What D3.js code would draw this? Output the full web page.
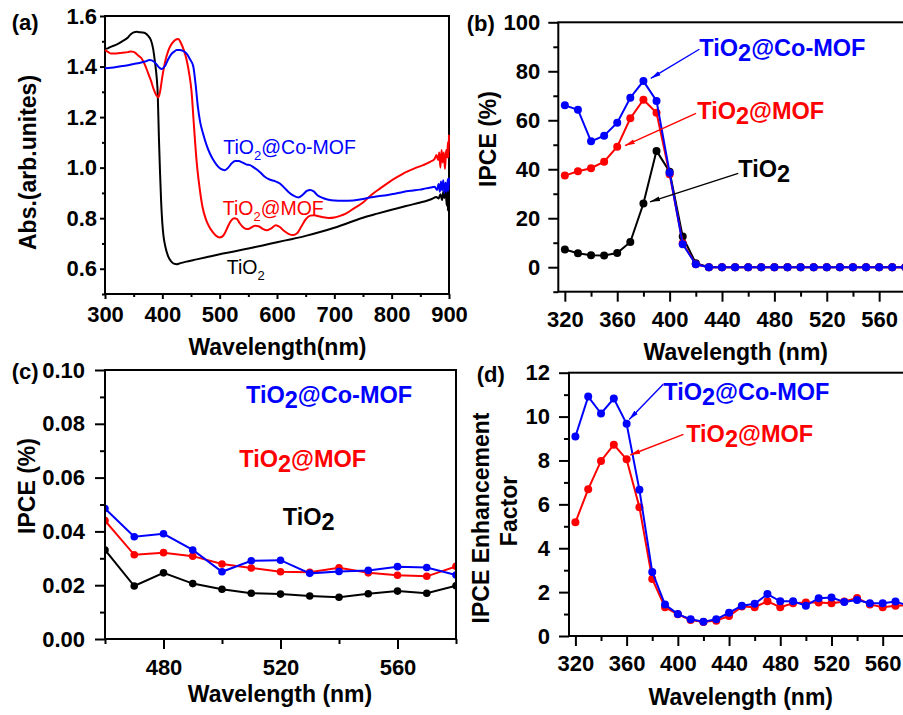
<!DOCTYPE html>
<html>
<head>
<meta charset="utf-8">
<script src="https://cdn.jsdelivr.net/npm/d3@7"></script>
<style>
  html, body { margin: 0; padding: 0; background: #fff; }
  svg { display: block; }
</style>
</head>
<body>
<svg id="fig" width="903" height="715"></svg>
<script>
// ---------- (a) UV-vis absorbance spectra: [wavelength nm, absorbance] ----------
const absTiO2 = [
  [300,1.470],[305,1.472],[310,1.478],[320,1.487],[330,1.500],[340,1.515],[345,1.528],[350,1.535],
  [355,1.538],[360,1.536],[365,1.535],[370,1.532],[375,1.522],[380,1.505],[384,1.470],[387,1.420],
  [390,1.360],[392,1.290],[394,1.120],[396,0.980],[398,0.860],[400,0.780],[402,0.730],[405,0.690],
  [410,0.650],[415,0.630],[420,0.620],[425,0.618],[430,0.621],[440,0.627],[460,0.637],[480,0.647],
  [500,0.657],[525,0.668],[550,0.680],[575,0.692],[600,0.705],[625,0.717],[650,0.730],[675,0.745],
  [700,0.762],[725,0.782],[750,0.802],[775,0.818],[800,0.833],[825,0.848],[850,0.862],[860,0.868],
  [870,0.876],[878,0.884],[882,0.878],[885,0.895],[888,0.872],[890,0.905],[892,0.880],[894,0.915],
  [896,0.850],[897,0.930],[898,0.830],[899,0.910],[900,0.860]
];
const absMOF = [
  [300,1.465],[305,1.458],[310,1.452],[320,1.452],[330,1.455],[340,1.457],[345,1.460],[350,1.458],
  [355,1.450],[360,1.440],[365,1.428],[370,1.405],[375,1.375],[380,1.345],[385,1.310],[390,1.285],
  [393,1.278],[396,1.300],[400,1.360],[405,1.420],[410,1.460],[415,1.485],[420,1.500],[425,1.508],
  [428,1.509],[432,1.495],[437,1.468],[442,1.430],[447,1.370],[451,1.300],[455,1.170],[460,1.020],
  [465,0.920],[470,0.845],[476,0.795],[482,0.765],[488,0.745],[494,0.730],[500,0.724],[505,0.728],
  [510,0.745],[515,0.770],[520,0.790],[525,0.800],[530,0.797],[535,0.780],[540,0.766],[545,0.758],
  [550,0.757],[555,0.763],[562,0.770],[568,0.768],[575,0.758],[582,0.752],[590,0.760],[598,0.772],
  [605,0.765],[612,0.750],[620,0.738],[628,0.733],[635,0.740],[642,0.765],[650,0.795],[658,0.810],
  [665,0.812],[672,0.808],[680,0.804],[690,0.801],[700,0.803],[710,0.809],[720,0.818],[735,0.840],
  [750,0.862],[765,0.893],[780,0.918],[795,0.942],[810,0.963],[825,0.982],[840,0.997],[855,1.010],
  [867,1.023],[875,1.035],[878,1.050],[881,1.030],[883,1.060],[885,1.000],[887,1.070],[889,1.020],
  [891,1.060],[893,0.995],[895,1.070],[897,1.040],[898,1.100],[899,1.040],[900,1.130]
];
const absCoMOF = [
  [300,1.393],[310,1.395],[320,1.398],[330,1.402],[340,1.405],[350,1.410],[360,1.414],[370,1.420],
  [378,1.426],[385,1.420],[390,1.408],[395,1.395],[399,1.390],[404,1.400],[410,1.428],[415,1.447],
  [420,1.458],[425,1.465],[430,1.465],[436,1.462],[442,1.452],[448,1.430],[454,1.400],[458,1.330],
  [462,1.240],[466,1.180],[471,1.135],[477,1.090],[483,1.056],[489,1.030],[495,1.010],[502,0.995],
  [509,0.990],[515,1.000],[521,1.017],[527,1.026],[533,1.026],[540,1.020],[547,1.012],[553,1.010],
  [560,1.000],[570,0.983],[578,0.965],[588,0.952],[596,0.947],[605,0.937],[613,0.920],[620,0.904],
  [628,0.890],[637,0.882],[645,0.893],[652,0.908],[658,0.912],[664,0.906],[670,0.892],[680,0.880],
  [690,0.873],[700,0.870],[715,0.869],[733,0.870],[750,0.876],[762,0.882],[776,0.887],[791,0.891],
  [805,0.897],[820,0.904],[835,0.909],[849,0.913],[860,0.918],[868,0.921],[875,0.924],[879,0.912],
  [882,0.935],[884,0.905],[886,0.945],[888,0.910],[890,0.950],[892,0.900],[894,0.940],[896,0.905],
  [898,0.955],[899,0.910],[900,0.960]
];

// ---------- (b) IPCE, 320-580 nm ----------
const ipceWavelength = [320,330,340,350,360,370,380,390,400,410,420,430,440,450,460,470,480,490,500,510,520,530,540,550,560,570,580];
const ipceTiO2   = [7.2,5.7,4.9,4.8,5.8,10.3,26.0,47.5,39.0,12.5,1.6,0,0,0,0,0,0,0,0,0,0,0,0,0,0,0,0];
const ipceMOF    = [37.4,39.2,40.4,43.1,49.2,60.8,68.4,63.1,38.0,9.8,1.2,0,0,0,0,0,0,0,0,0,0,0,0,0,0,0,0];
const ipceCoMOF  = [66.1,64.3,51.4,53.7,59.0,69.2,76.0,67.9,38.6,9.4,1.2,0,0,0,0,0,0,0,0,0,0,0,0,0,0,0,0];

// ---------- (c) IPCE in the visible, 460-580 nm ----------
const visWavelength = [460,470,480,490,500,510,520,530,540,550,560,570,580];
const visTiO2  = [0.0331,0.0197,0.0246,0.0206,0.0185,0.0170,0.0167,0.0160,0.0155,0.0168,0.0178,0.0170,0.0198];
const visMOF   = [0.0440,0.0313,0.0321,0.0308,0.0279,0.0264,0.0250,0.0248,0.0265,0.0246,0.0237,0.0233,0.0270];
const visCoMOF = [0.0485,0.0380,0.0391,0.0331,0.0250,0.0291,0.0293,0.0244,0.0251,0.0255,0.0269,0.0266,0.0238];

// ---------- (d) IPCE enhancement factor ----------
const enhWavelength = ipceWavelength;
const enhMOF   = [5.18,6.69,7.98,8.72,8.05,5.87,2.60,1.31,0.99,0.73,0.64,0.70,0.91,1.34,1.31,1.58,1.31,1.49,1.53,1.53,1.49,1.57,1.73,1.44,1.31,1.38,1.40];
const enhCoMOF = [9.09,10.91,10.14,10.82,9.67,6.66,2.92,1.43,1.00,0.76,0.65,0.76,1.06,1.38,1.47,1.91,1.58,1.58,1.38,1.72,1.75,1.55,1.64,1.49,1.49,1.57,1.38];

// ---------- tick values ----------
const aXTicks = [300,400,500,600,700,800,900];
const aXMinor = [350,450,550,650,750,850];
const aYTicks = [0.6,0.8,1.0,1.2,1.4,1.6];
const aYMinor = [0.5,0.7,0.9,1.1,1.3,1.5];
const bXTicks = [320,360,400,440,480,520,560];
const bXMinor = [340,380,420,460,500,540,580];
const bYTicks = [0,20,40,60,80,100];
const bYMinor = [-10,10,30,50,70,90];
const cXTicks = [480,520,560];
const cXMinor = [460,500,540,580];
const cYTicks = [0,0.02,0.04,0.06,0.08,0.10];
const cYMinor = [0.01,0.03,0.05,0.07,0.09];
const dXTicks = bXTicks;
const dXMinor = bXMinor;
const dYTicks = [0,2,4,6,8,10,12];
const dYMinor = [1,3,5,7,9,11];

// ---------- styling ----------
const FONT = '"Liberation Sans", Arial, Helvetica, sans-serif';
const BLUE = "#0000ff", RED = "#ff0000", BLACK = "#000000";
const svg = d3.select("#fig").attr("font-family", FONT);
svg.append("rect").attr("width", 903).attr("height", 715).attr("fill", "#fff");

const defs = svg.append("defs");
[["blue", BLUE], ["red", RED], ["black", BLACK]].forEach(([id, c]) => {
  defs.append("marker")
    .attr("id", "arr-" + id)
    .attr("markerUnits", "userSpaceOnUse")
    .attr("markerWidth", 12).attr("markerHeight", 8)
    .attr("refX", 10).attr("refY", 3)
    .attr("orient", "auto")
    .append("path").attr("d", "M0,0.6L10,3L0,5.4Z").attr("fill", c);
});

function axes(g, x, y, o) {
  const xr = x.range(), yr = y.range();
  const bottom = yr[0], left = xr[0];
  // minor ticks
  g.append("g").attr("transform", `translate(0,${bottom})`)
    .call(d3.axisBottom(x).tickValues(o.xMinor).tickSize(o.minor).tickFormat(""))
    .call(s => s.select(".domain").remove());
  g.append("g").attr("transform", `translate(${left},0)`)
    .call(d3.axisLeft(y).tickValues(o.yMinor).tickSize(o.minor).tickFormat(""))
    .call(s => s.select(".domain").remove());
  // major ticks with labels
  g.append("g").attr("transform", `translate(0,${bottom})`)
    .call(d3.axisBottom(x).tickValues(o.xTicks).tickSize(o.major).tickPadding(o.xPad).tickFormat(o.xFmt))
    .call(s => s.select(".domain").remove());
  g.append("g").attr("transform", `translate(${left},0)`)
    .call(d3.axisLeft(y).tickValues(o.yTicks).tickSize(o.major).tickPadding(o.yPad).tickFormat(o.yFmt))
    .call(s => s.select(".domain").remove());
  g.selectAll(".tick line").attr("stroke", "#000").attr("stroke-width", 2);
  g.selectAll(".tick text")
    .attr("font-family", FONT).attr("font-size", 22).attr("font-weight", "bold").attr("fill", "#000");
  g.selectAll("g").attr("font-family", null).attr("font-size", null);
  // frame
  g.append("rect")
    .attr("x", xr[0]).attr("y", yr[1])
    .attr("width", xr[1] - xr[0]).attr("height", yr[0] - yr[1])
    .attr("fill", "none").attr("stroke", "#000").attr("stroke-width", 2);
}

function chemText(g, px, py, color, size, name, subSize, shift, weight) {
  // splits "TiO2..." into TiO + subscript 2 + remainder
  const i = name.indexOf("2");
  const t = g.append("text").attr("x", px).attr("y", py).attr("fill", color)
    .attr("font-size", size).attr("font-weight", weight);
  t.append("tspan").text(name.slice(0, i));
  t.append("tspan").attr("font-size", subSize).attr("dy", shift).text("2");
  if (i + 1 < name.length) t.append("tspan").attr("dy", -shift).attr("font-size", size).text(name.slice(i + 1));
  return t;
}

function arrow(g, x1, y1, x2, y2, color, id) {
  g.append("line").attr("x1", x1).attr("y1", y1).attr("x2", x2).attr("y2", y2)
    .attr("stroke", color).attr("stroke-width", 1.4).attr("marker-end", `url(#arr-${id})`);
}

function series(g, x, y, xs, ys, color, r, clipId) {
  const pts = xs.map((w, i) => [w, ys[i]]);
  const s = g.append("g");
  if (clipId) s.attr("clip-path", `url(#${clipId})`);
  s.append("path").datum(pts)
    .attr("d", d3.line().x(d => x(d[0])).y(d => y(d[1])))
    .attr("fill", "none").attr("stroke", color).attr("stroke-width", 2);
  s.selectAll("circle").data(pts).join("circle")
    .attr("cx", d => x(d[0])).attr("cy", d => y(d[1])).attr("r", r).attr("fill", color);
}

function boldText(g, px, py, txt, size, rotate, anchor) {
  const t = g.append("text").attr("font-size", size).attr("font-weight", "bold")
    .attr("fill", "#000").attr("text-anchor", anchor || "middle").text(txt);
  if (rotate) t.attr("transform", `translate(${px},${py}) rotate(-90)`).attr("dy", "0.35em");
  else t.attr("x", px).attr("y", py);
  return t;
}

// ================= (a) =================
{
  const g = svg.append("g");
  const x = d3.scaleLinear().domain([300, 900]).range([105, 449]);
  const y = d3.scaleLinear().domain([0.5, 1.6]).range([294, 16]);
  axes(g, x, y, { xTicks: aXTicks, xMinor: aXMinor, yTicks: aYTicks, yMinor: aYMinor,
    major: 5, minor: 3, xPad: 7, yPad: 3, xFmt: d3.format("d"), yFmt: d3.format(".1f") });
  const line = d3.line().x(d => x(d[0])).y(d => y(d[1])).curve(d3.curveMonotoneX);
  [[absTiO2, BLACK], [absMOF, RED], [absCoMOF, BLUE]].forEach(([d, c]) => {
    g.append("path").datum(d).attr("d", line).attr("fill", "none")
      .attr("stroke", c).attr("stroke-width", 2).attr("stroke-linejoin", "round");
  });
  chemText(g, x(506.4), y(1.052), BLUE, 19.5, "TiO2@Co-MOF", 13, 6, "normal");
  chemText(g, x(505.3), y(0.812), RED, 19.5, "TiO2@MOF", 13, 6, "normal");
  chemText(g, x(512.3), y(0.581), BLACK, 19.5, "TiO2", 13, 6, "normal");
  boldText(g, 277.5, 355, "Wavelength(nm)", 23);
  boldText(g, 28.3, 162.5, "Abs.(arb.unites)", 23, true);
  boldText(g, 11.7, 30, "(a)", 22, false, "start");
}

// ================= (b) =================
{
  const g = svg.append("g");
  const x = d3.scaleLinear().domain([315, 600]).range([558.3, 558.3 + 285 * 1.3096]);
  const y = d3.scaleLinear().domain([-10, 100]).range([291.7, 22.3]);
  axes(g, x, y, { xTicks: bXTicks, xMinor: bXMinor, yTicks: bYTicks, yMinor: bYMinor,
    major: 10, minor: 5, xPad: 10, yPad: 8, xFmt: d3.format("d"), yFmt: d3.format("d") });
  series(g, x, y, ipceWavelength, ipceTiO2, BLACK, 4);
  series(g, x, y, ipceWavelength, ipceMOF, RED, 4);
  series(g, x, y, ipceWavelength, ipceCoMOF, BLUE, 4);
  chemText(g, x(422.7), y(86.2), BLUE, 23.5, "TiO2@Co-MOF", 23.5, 5, "bold");
  chemText(g, x(421.1), y(60.4), RED, 23.5, "TiO2@MOF", 23.5, 5, "bold");
  chemText(g, x(452.4), y(37.0), BLACK, 23.5, "TiO2", 23.5, 5, "bold");
  arrow(g, x(422.7), y(89.0), x(385.6), y(77.1), BLUE, "blue");
  arrow(g, x(420.1), y(62.8), x(365.9), y(49.6), RED, "red");
  arrow(g, x(452.4), y(38.3), x(385.0), y(26.7), BLACK, "black");
  boldText(g, 735.8, 360, "Wavelength (nm)", 23);
  boldText(g, 488.3, 139, "IPCE (%)", 23, true);
  boldText(g, 466.7, 31, "(b)", 22, false, "start");
}

// ================= (c) =================
{
  const g = svg.append("g");
  const x = d3.scaleLinear().domain([460, 580]).range([105, 456]);
  const y = d3.scaleLinear().domain([0, 0.10]).range([639, 370]);
  defs.append("clipPath").attr("id", "clip-c").append("rect")
    .attr("x", 105).attr("y", 370).attr("width", 351).attr("height", 269);
  axes(g, x, y, { xTicks: cXTicks, xMinor: cXMinor, yTicks: cYTicks, yMinor: cYMinor,
    major: 10, minor: 5, xPad: 10, yPad: 10, xFmt: d3.format("d"), yFmt: d3.format(".2f") });
  series(g, x, y, visWavelength, visTiO2, BLACK, 3.8, "clip-c");
  series(g, x, y, visWavelength, visMOF, RED, 3.8, "clip-c");
  series(g, x, y, visWavelength, visCoMOF, BLUE, 3.8, "clip-c");
  g.select("rect").raise();
  chemText(g, x(508.2), y(0.0876), BLUE, 23.5, "TiO2@Co-MOF", 23.5, 5, "bold");
  chemText(g, x(505.9), y(0.0641), RED, 23.5, "TiO2@MOF", 23.5, 5, "bold");
  chemText(g, x(520.8), y(0.0424), BLACK, 23.5, "TiO2", 23.5, 5, "bold");
  boldText(g, 280, 701.7, "Wavelength (nm)", 23);
  boldText(g, 26.7, 486, "IPCE (%)", 23, true);
  boldText(g, 11.7, 379, "(c)", 22, false, "start");
}

// ================= (d) =================
{
  const g = svg.append("g");
  const x = d3.scaleLinear().domain([315, 600]).range([569, 569 + 285 * 1.2804]);
  const y = d3.scaleLinear().domain([0, 12]).range([636, 372.7]);
  axes(g, x, y, { xTicks: dXTicks, xMinor: dXMinor, yTicks: dYTicks, yMinor: dYMinor,
    major: 10, minor: 5, xPad: 9, yPad: 9, xFmt: d3.format("d"), yFmt: d3.format("d") });
  series(g, x, y, enhWavelength, enhMOF, RED, 4);
  series(g, x, y, enhWavelength, enhCoMOF, BLUE, 4);
  chemText(g, x(388.6), y(10.76), BLUE, 23.5, "TiO2@Co-MOF", 23.5, 5, "bold");
  chemText(g, x(406.5), y(8.83), RED, 23.5, "TiO2@MOF", 23.5, 5, "bold");
  arrow(g, x(388.6), y(11.47), x(362.0), y(9.87), BLUE, "blue");
  arrow(g, x(404.4), y(9.19), x(362.8), y(8.25), RED, "red");
  boldText(g, 740.8, 705, "Wavelength (nm)", 23);
  boldText(g, 480.7, 518, "IPCE Enhancement", 23, true);
  boldText(g, 509.3, 511, "Factor", 23, true);
  boldText(g, 476.7, 382, "(d)", 22, false, "start");
}
</script>
</body>
</html>
